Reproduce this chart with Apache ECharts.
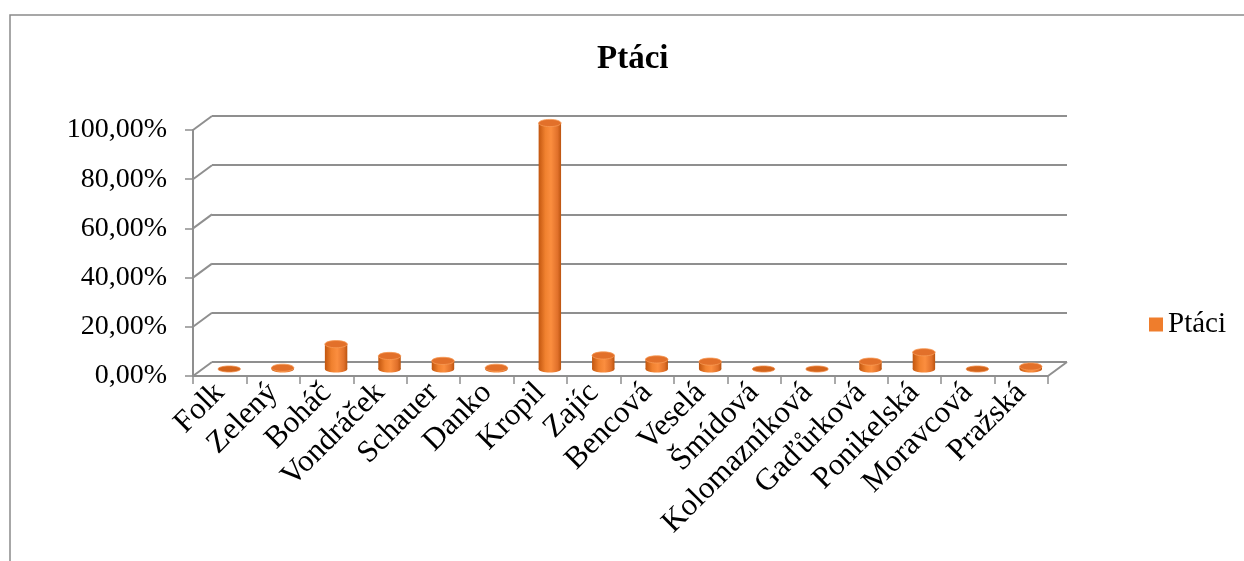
<!DOCTYPE html>
<html>
<head>
<meta charset="utf-8">
<title>Ptáci</title>
<script src="https://cdn.jsdelivr.net/npm/echarts@6/dist/echarts.min.js"></script>
<style>
  html, body { margin: 0; padding: 0; background: #fff; }
  #chart { width: 1244px; height: 561px; }
</style>
</head>
<body>
<div id="chart"></div>
<script>
// data
const categories = ['Folk', 'Zelený', 'Boháč', 'Vondráček', 'Schauer', 'Danko', 'Kropil', 'Zajíc',
  'Bencová', 'Veselá', 'Šmídová', 'Kolomazníková', 'Gaďůrková', 'Ponikelská', 'Moravcová', 'Pražská']
const ptaci = [0.002, 0.005, 0.101, 0.053, 0.033, 0.005, 1.0, 0.055,
  0.039, 0.03, 0, 0, 0.03, 0.068, 0, 0.01]
const yTicks = [0, 0.2, 0.4, 0.6, 0.8, 1]

const FONT = 'Liberation Serif'
const GRID_LINE = '#8f8f8f'
// 3D look: back wall is shifted by depth, bars sit half way
const front = { left: 193, top: 130, width: 855, height: 246 }
const depth = { dx: 19, dy: -14 }

function shifted(k) {
  return {
    left: front.left + depth.dx * k,
    top: front.top + depth.dy * k,
    width: front.width,
    height: front.height
  }
}

function pct(v) {
  return (v * 100).toFixed(2).replace('.', ',') + '%'
}

const chart = echarts.init(document.getElementById('chart'))

const valueAxisBase = { type: 'value', min: 0, max: 1, interval: 0.2 }

function renderCylinder(params, api) {
  const v = api.value(1)
  const top = api.coord([api.value(0), v])
  const base = api.coord([api.value(0), 0])
  const w = api.size([1, 0])[0] * 0.42
  const rx = w / 2
  const ry = 3.6
  const cx = base[0]
  const body = new echarts.graphic.LinearGradient(0, 0, 1, 0, [
    { offset: 0, color: '#c2560f' },
    { offset: 0.3, color: '#f0812f' },
    { offset: 0.55, color: '#fb8e3f' },
    { offset: 0.85, color: '#e0702a' },
    { offset: 1, color: '#bb540f' }
  ])
  const children = []
  if (base[1] - top[1] > 0.5) {
    children.push({
      type: 'ellipse',
      shape: { cx: cx, cy: base[1], rx: rx, ry: ry },
      style: { fill: body }
    })
    children.push({
      type: 'rect',
      shape: { x: cx - rx, y: top[1], width: w, height: base[1] - top[1] },
      style: { fill: body }
    })
    children.push({
      type: 'ellipse',
      shape: { cx: cx, cy: top[1], rx: rx, ry: ry },
      style: { fill: '#e2702a', stroke: '#f79a55', lineWidth: 0.8 }
    })
  } else {
    children.push({
      type: 'ellipse',
      shape: { cx: cx, cy: base[1], rx: rx, ry: ry - 0.6 },
      style: { fill: '#d2641c', stroke: '#f08a45', lineWidth: 0.8 }
    })
  }
  return { type: 'group', children: children }
}

const option = {
  animation: false,
  backgroundColor: '#fff',
  textStyle: { fontFamily: FONT },
  title: {
    text: 'Ptáci',
    left: 592,
    top: 38,
    textStyle: { fontFamily: FONT, fontSize: 33, fontWeight: 'bold', color: '#000' }
  },
  legend: {
    data: ['Ptáci'],
    left: 1149,
    top: 310,
    padding: 0,
    icon: 'rect',
    itemWidth: 14,
    itemHeight: 14,
    itemGap: 5,
    textStyle: { fontFamily: FONT, fontSize: 29, color: '#000', padding: [0, 0, 0, 0] }
  },
  grid: [
    Object.assign({}, front),
    Object.assign({}, shifted(1)),
    Object.assign({}, shifted(0.5))
  ],
  xAxis: [
    {
      gridIndex: 0,
      type: 'category',
      data: categories,
      axisLine: { lineStyle: { color: GRID_LINE, width: 2 } },
      axisTick: { show: true, length: 8, interval: 0, lineStyle: { color: GRID_LINE, width: 1.5 } },
      axisLabel: {
        interval: 0,
        rotate: 45,
        margin: 12,
        fontFamily: FONT,
        fontSize: 31,
        color: '#000'
      },
      splitLine: { show: false }
    },
    { gridIndex: 1, type: 'category', data: categories, show: false },
    { gridIndex: 2, type: 'category', data: categories, show: false }
  ],
  yAxis: [
    Object.assign({}, valueAxisBase, {
      gridIndex: 0,
      axisLine: { show: true, lineStyle: { color: GRID_LINE, width: 2 } },
      axisTick: { show: true, length: 8, lineStyle: { color: GRID_LINE, width: 1.5 } },
      axisLabel: {
        margin: 26,
        fontFamily: FONT,
        fontSize: 28,
        color: '#000',
        formatter: pct
      },
      splitLine: { show: false }
    }),
    Object.assign({}, valueAxisBase, {
      gridIndex: 1,
      axisLine: { show: false },
      axisTick: { show: false },
      axisLabel: { show: false },
      splitLine: { show: true, lineStyle: { color: GRID_LINE, width: 2 } }
    }),
    Object.assign({}, valueAxisBase, { gridIndex: 2, show: false })
  ],
  series: [
    {
      name: 'Ptáci',
      type: 'custom',
      xAxisIndex: 2,
      yAxisIndex: 2,
      itemStyle: { color: '#ef7d2c' },
      renderItem: renderCylinder,
      data: ptaci.map(function (v, i) { return [i, v] }),
      z: 5
    }
  ]
}

chart.setOption(option)

// side wall edges and floor edge, placed from the axes themselves
const graphics = [
  {
    type: 'rect',
    shape: { x: 10, y: 15, width: 1400, height: 700 },
    style: { fill: null, stroke: '#8a8a8a', lineWidth: 1.5 },
    silent: true,
    z: -10
  }
]
yTicks.forEach(function (t) {
  const p = chart.convertToPixel({ gridIndex: 0 }, [0, t])
  const q = chart.convertToPixel({ gridIndex: 1 }, [0, t])
  graphics.push({
    type: 'line',
    shape: { x1: front.left, y1: p[1], x2: front.left + depth.dx, y2: q[1] },
    style: { stroke: GRID_LINE, lineWidth: 2 },
    silent: true
  })
})
const rightFront = front.left + front.width
const zeroFront = chart.convertToPixel({ yAxisIndex: 0 }, 0)
const zeroBack = chart.convertToPixel({ yAxisIndex: 1 }, 0)
graphics.push({
  type: 'line',
  shape: { x1: rightFront, y1: zeroFront, x2: rightFront + depth.dx, y2: zeroBack },
  style: { stroke: GRID_LINE, lineWidth: 2 },
  silent: true
})
chart.setOption({ graphic: graphics })
</script>
</body>
</html>
